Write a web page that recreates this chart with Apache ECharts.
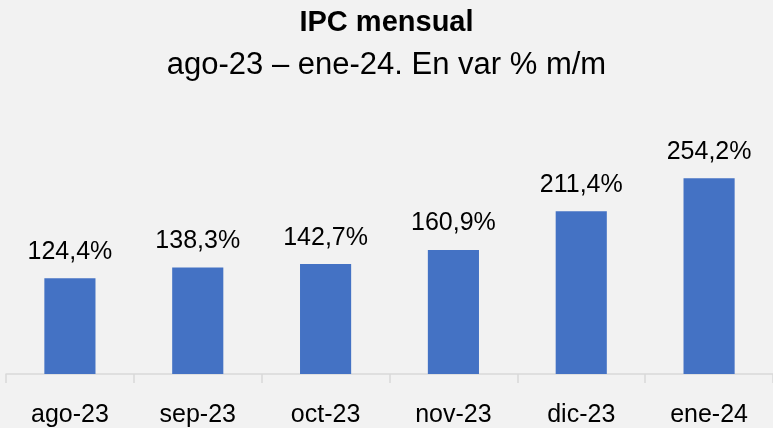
<!DOCTYPE html>
<html>
<head>
<meta charset="utf-8">
<script src="https://cdn.jsdelivr.net/npm/echarts@6/dist/echarts.min.js"></script>
<style>
  html, body { margin: 0; padding: 0; background: #f2f2f2; }
  #grafico { width: 773px; height: 428px; }
</style>
</head>
<body>
<div id="grafico"></div>
<script>
var meses = ['ago-23', 'sep-23', 'oct-23', 'nov-23', 'dic-23', 'ene-24'];
var valores = [124.4, 138.3, 142.7, 160.9, 211.4, 254.2];

var fonte = 'Liberation Sans';

function exibeGrafico() {
    var myChart = echarts.init(document.getElementById('grafico'));

    var option = {
        backgroundColor: '#f2f2f2',
        title: [
            {
                text: 'IPC mensual',
                left: 'center',
                top: 3,
                textStyle: { fontFamily: fonte, fontSize: 29, fontWeight: 'bold', color: '#000' }
            },
            {
                text: 'ago-23 – ene-24. En var % m/m',
                left: 'center',
                top: 45,
                textStyle: { fontFamily: fonte, fontSize: 31, fontWeight: 'normal', color: '#000' }
            }
        ],
        grid: { left: 6, width: 771, top: 143, bottom: 54 },
        xAxis: {
            type: 'category',
            data: meses,
            axisLine: { lineStyle: { color: '#d9d9d9', width: 1.5 } },
            axisTick: { show: true, alignWithLabel: false, length: 9, lineStyle: { color: '#d9d9d9', width: 1.5 } },
            axisLabel: { fontFamily: fonte, fontSize: 25, color: '#000', margin: 29 }
        },
        yAxis: {
            type: 'value',
            min: 0,
            max: 300,
            show: false,
            splitLine: { show: false }
        },
        series: [
            {
                type: 'bar',
                data: valores,
                barWidth: '40%',
                itemStyle: { color: '#4472c4' },
                label: {
                    show: true,
                    position: 'top',
                    distance: 14,
                    fontFamily: fonte,
                    fontSize: 25,
                    color: '#000',
                    formatter: function (p) {
                        return p.value.toFixed(1).replace('.', ',') + '%';
                    }
                }
            }
        ]
    };

    myChart.setOption(option);
}

exibeGrafico();
</script>
</body>
</html>
